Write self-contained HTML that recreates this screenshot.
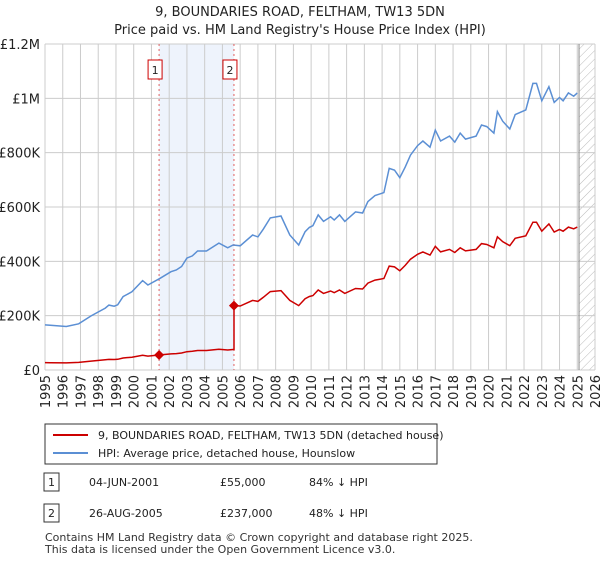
<!DOCTYPE html>
<html><head><meta charset="utf-8"><style>
body{margin:0;background:#fff;font-family:"Liberation Sans","DejaVu Sans",sans-serif;}
svg text{font-family:"DejaVu Sans","Liberation Sans",sans-serif;}
</style></head><body>
<svg id="c" width="600" height="560" xmlns="http://www.w3.org/2000/svg">
<defs><pattern id="hatch" width="6" height="6" patternUnits="userSpaceOnUse" patternTransform="rotate(45)"><line x1="0" y1="0" x2="0" y2="6" stroke="#bbb" stroke-width="1"/></pattern></defs>
<text x="300" y="16" text-anchor="middle" font-size="13" fill="#222">9, BOUNDARIES ROAD, FELTHAM, TW13 5DN</text>
<text x="300" y="34" text-anchor="middle" font-size="13" fill="#222">Price paid vs. HM Land Registry's House Price Index (HPI)</text>
<g id="plot"></g>
<g>
<rect x="45" y="424" width="392" height="40" fill="#fff" stroke="#333" stroke-width="1"/>
<line x1="53" y1="435" x2="88" y2="435" stroke="#cc0000" stroke-width="2"/>
<text x="98" y="439" font-size="11" fill="#222">9, BOUNDARIES ROAD, FELTHAM, TW13 5DN (detached house)</text>
<line x1="53" y1="453" x2="88" y2="453" stroke="#5b8fd4" stroke-width="2"/>
<text x="98" y="457" font-size="11" fill="#222">HPI: Average price, detached house, Hounslow</text>
</g>
<g font-size="11" fill="#222">
<rect x="44" y="473" width="15" height="18" fill="#fff" stroke="#333"/><text x="51.5" y="486" text-anchor="middle">1</text>
<text x="89" y="486">04-JUN-2001</text><text x="220" y="486">£55,000</text><text x="309" y="486">84% ↓ HPI</text>
<rect x="44" y="504" width="15" height="18" fill="#fff" stroke="#333"/><text x="51.5" y="517" text-anchor="middle">2</text>
<text x="89" y="517">26-AUG-2005</text><text x="220" y="517">£237,000</text><text x="309" y="517">48% ↓ HPI</text>
</g>
<text x="45" y="541" font-size="11" fill="#333">Contains HM Land Registry data © Crown copyright and database right 2025.</text>
<text x="45" y="553" font-size="11" fill="#333">This data is licensed under the Open Government Licence v3.0.</text>
</svg>
<script>
const hpiYears=[1995,1995.3,1996.2,1996.9,1997.6,1998.4,1998.6,1998.9,1999.1,1999.4,1999.9,2000.5,2000.8,2001.5,2002.1,2002.4,2002.7,2003.0,2003.3,2003.6,2004.1,2004.8,2005.3,2005.6,2006.0,2006.7,2007.0,2007.3,2007.7,2008.3,2008.8,2009.3,2009.66,2009.9,2010.1,2010.4,2010.7,2011.1,2011.3,2011.6,2011.9,2012.5,2012.9,2013.2,2013.6,2014.1,2014.4,2014.7,2015.0,2015.3,2015.6,2016.0,2016.3,2016.7,2017.0,2017.3,2017.8,2018.1,2018.4,2018.7,2019.3,2019.6,2019.9,2020.3,2020.5,2020.8,2021.2,2021.5,2022.1,2022.5,2022.7,2023.0,2023.4,2023.7,2024.0,2024.2,2024.5,2024.8,2025.0];
const hpiValues=[166,165,160,170,199,228,239,235,240,270,288,329,313,338,362,368,381,412,420,438,438,467,450,460,457,497,490,518,560,567,497,460,509,525,531,571,547,564,552,571,547,582,578,620,642,653,742,736,708,747,791,826,843,820,883,843,861,839,872,850,861,902,896,872,951,916,887,940,957,1055,1055,991,1043,985,1003,991,1020,1008,1020];
const saleYears=[2001.43,2005.65];
const salePrices=[55,237];
const yTicks=[0,200,400,600,800,1000,1200];
const yTickLabels=["£0","£200K","£400K","£600K","£800K","£1M","£1.2M"];
const xTicks=[1995,1996,1997,1998,1999,2000,2001,2002,2003,2004,2005,2006,2007,2008,2009,2010,2011,2012,2013,2014,2015,2016,2017,2018,2019,2020,2021,2022,2023,2024,2025,2026];
const dataEnd=2025.1;

const X0=45,X1=595,Y0=370,Y1=44;
const xs=y=>X0+(y-1995)/31*(X1-X0);
const ys=v=>Y0-v/1200*(Y0-Y1);
const NS="http://www.w3.org/2000/svg";
const g=document.getElementById('plot');
function mk(t,a){const e=document.createElementNS(NS,t);for(const k in a)e.setAttribute(k,a[k]);g.appendChild(e);return e;}
function hpiAt(y){for(let i=0;i<hpiYears.length-1;i++){if(y<=hpiYears[i+1]){const f=(y-hpiYears[i])/(hpiYears[i+1]-hpiYears[i]);return hpiValues[i]+f*(hpiValues[i+1]-hpiValues[i]);}}return hpiValues[hpiValues.length-1];}

let e=mk('rect',{x:xs(saleYears[0]),y:Y1,width:xs(saleYears[1])-xs(saleYears[0]),height:Y0-Y1,fill:'#eef3fc'});


e=mk('rect',{x:xs(dataEnd),y:Y1,width:X1-xs(dataEnd),height:Y0-Y1,fill:'url(#hatch)'});


yTicks.forEach((v,i)=>{
 e=mk('line',{x1:X0,x2:X1,y1:ys(v),y2:ys(v),stroke:'#ccc','stroke-width':1});
 
 
 e=mk('text',{x:40,y:ys(v)+5,'text-anchor':'end','font-size':13,fill:'#222'});e.textContent=yTickLabels[i];
 
 
});
xTicks.forEach(t=>{
 e=mk('line',{x1:xs(t),x2:xs(t),y1:Y1,y2:Y0,stroke:'#ccc','stroke-width':1});
 
 
 e=mk('text',{x:0,y:0,'text-anchor':'end','font-size':13,fill:'#222',transform:`translate(${xs(t)+5},${Y0+5}) rotate(-90)`});e.textContent=t;
 
 
});
e=mk('line',{x1:xs(dataEnd),x2:xs(dataEnd),y1:Y1,y2:Y0,stroke:'#888','stroke-width':1});


saleYears.forEach((s,i)=>{
 e=mk('line',{x1:xs(s),x2:xs(s),y1:Y1,y2:Y0,stroke:'#e06060','stroke-width':1,'stroke-dasharray':'2,3'});
 
 
 e=mk('rect',{x:xs(s)-11,y:60,width:14,height:19,fill:'#fff',stroke:'#cc0000'});
 
 
 e=mk('text',{x:xs(s)-4,y:74,'text-anchor':'middle','font-size':11,fill:'#222'});e.textContent=String(i+1);
 
 
});
// HPI line
let d=hpiYears.map((y,i)=>(i?'L':'M')+xs(y).toFixed(1)+','+ys(hpiValues[i]).toFixed(1)).join('');
e=mk('path',{d:d,fill:'none',stroke:'#5b8fd4','stroke-width':1.5});


// Price paid line (sale prices indexed by HPI)
const pts=[];
hpiYears.forEach((y,i)=>{
 let k=y<saleYears[1]?0:1;
 if(i>0&&hpiYears[i-1]<saleYears[1]&&y>=saleYears[1]){
  pts.push([saleYears[1],salePrices[0]*hpiAt(saleYears[1])/hpiAt(saleYears[0])]);
  pts.push([saleYears[1],salePrices[1]]);
 }
 pts.push([y,salePrices[k]*hpiValues[i]/hpiAt(saleYears[k])]);
});
d=pts.map((p,i)=>(i?'L':'M')+xs(p[0]).toFixed(1)+','+ys(p[1]).toFixed(1)).join('');
e=mk('path',{d:d,fill:'none',stroke:'#cc0000','stroke-width':1.5});


saleYears.forEach((s,i)=>{
 const cx=xs(s),cy=ys(salePrices[i]);
 e=mk('path',{d:`M${cx},${cy-5}L${cx+5},${cy}L${cx},${cy+5}L${cx-5},${cy}Z`,fill:'#cc0000'});
 
 
});
</script>
</body></html>
